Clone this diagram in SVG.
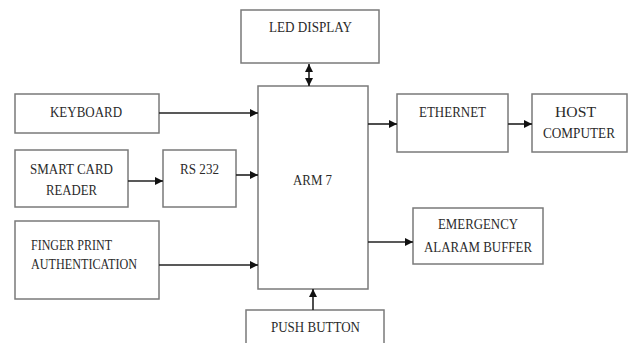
<svg xmlns="http://www.w3.org/2000/svg" width="629" height="343" viewBox="0 0 629 343">
<style>
.box{fill:#fff;stroke:#7a7a7a;stroke-width:1.5}
.lbl{font-family:"Liberation Serif","Times New Roman",serif;font-size:15.5px;fill:#2a2a2a}
.con{stroke:#222;stroke-width:1.6;fill:none}
</style>
<defs>
<marker id="ah" viewBox="0 0 10 10" refX="10" refY="5" markerWidth="9" markerHeight="8" markerUnits="userSpaceOnUse" orient="auto-start-reverse">
<path d="M0,0 L10,5 L0,10 Z" fill="#111"/>
</marker>
</defs>
<rect width="629" height="343" fill="#fff"/>
<g id="led"><rect class="box" x="241" y="10" width="138" height="53"/><text class="lbl" x="269" y="32" textLength="83" lengthAdjust="spacingAndGlyphs">LED DISPLAY</text></g>
<g id="arm"><rect class="box" x="258" y="86" width="110" height="203"/><text class="lbl" x="293" y="185" textLength="39" lengthAdjust="spacingAndGlyphs">ARM 7</text></g>
<g id="keyboard"><rect class="box" x="15" y="94" width="144" height="39"/><text class="lbl" x="50" y="117" textLength="72" lengthAdjust="spacingAndGlyphs">KEYBOARD</text></g>
<g id="smartcard"><rect class="box" x="15" y="150" width="113" height="57"/><text class="lbl" x="30" y="174" textLength="83" lengthAdjust="spacingAndGlyphs">SMART CARD</text><text class="lbl" x="46" y="195" textLength="51" lengthAdjust="spacingAndGlyphs">READER</text></g>
<g id="rs232"><rect class="box" x="163" y="150" width="73" height="57"/><text class="lbl" x="180" y="174" textLength="39" lengthAdjust="spacingAndGlyphs">RS 232</text></g>
<g id="finger"><rect class="box" x="15" y="221" width="144" height="78"/><text class="lbl" x="31" y="250" textLength="81" lengthAdjust="spacingAndGlyphs">FINGER PRINT</text><text class="lbl" x="31" y="269" textLength="106" lengthAdjust="spacingAndGlyphs">AUTHENTICATION</text></g>
<g id="push"><rect class="box" x="246" y="310" width="138" height="40"/><text class="lbl" x="271" y="332" textLength="89" lengthAdjust="spacingAndGlyphs">PUSH BUTTON</text></g>
<g id="ethernet"><rect class="box" x="397" y="94" width="111" height="58"/><text class="lbl" x="419" y="117" textLength="67" lengthAdjust="spacingAndGlyphs">ETHERNET</text></g>
<g id="host"><rect class="box" x="532" y="94" width="95" height="58"/><text class="lbl" x="555" y="117" textLength="41" lengthAdjust="spacingAndGlyphs">HOST</text><text class="lbl" x="543" y="138" textLength="72" lengthAdjust="spacingAndGlyphs">COMPUTER</text></g>
<g id="emergency"><rect class="box" x="413" y="208" width="130" height="56"/><text class="lbl" x="438" y="229" textLength="80" lengthAdjust="spacingAndGlyphs">EMERGENCY</text><text class="lbl" x="424" y="252" textLength="108" lengthAdjust="spacingAndGlyphs">ALARAM BUFFER</text></g>
<g id="connectors">
<line class="con" x1="309" y1="64" x2="309" y2="86" marker-start="url(#ah)" marker-end="url(#ah)"/>
<line class="con" x1="159" y1="113" x2="258" y2="113" marker-end="url(#ah)"/>
<line class="con" x1="128" y1="181" x2="163" y2="181" marker-end="url(#ah)"/>
<line class="con" x1="236" y1="175" x2="258" y2="175" marker-end="url(#ah)"/>
<line class="con" x1="159" y1="265" x2="258" y2="265" marker-end="url(#ah)"/>
<line class="con" x1="313" y1="310" x2="313" y2="289" marker-end="url(#ah)"/>
<line class="con" x1="368" y1="124" x2="397" y2="124" marker-end="url(#ah)"/>
<line class="con" x1="508" y1="124" x2="532" y2="124" marker-end="url(#ah)"/>
<line class="con" x1="368" y1="242" x2="413" y2="242" marker-end="url(#ah)"/>
</g>
</svg>
